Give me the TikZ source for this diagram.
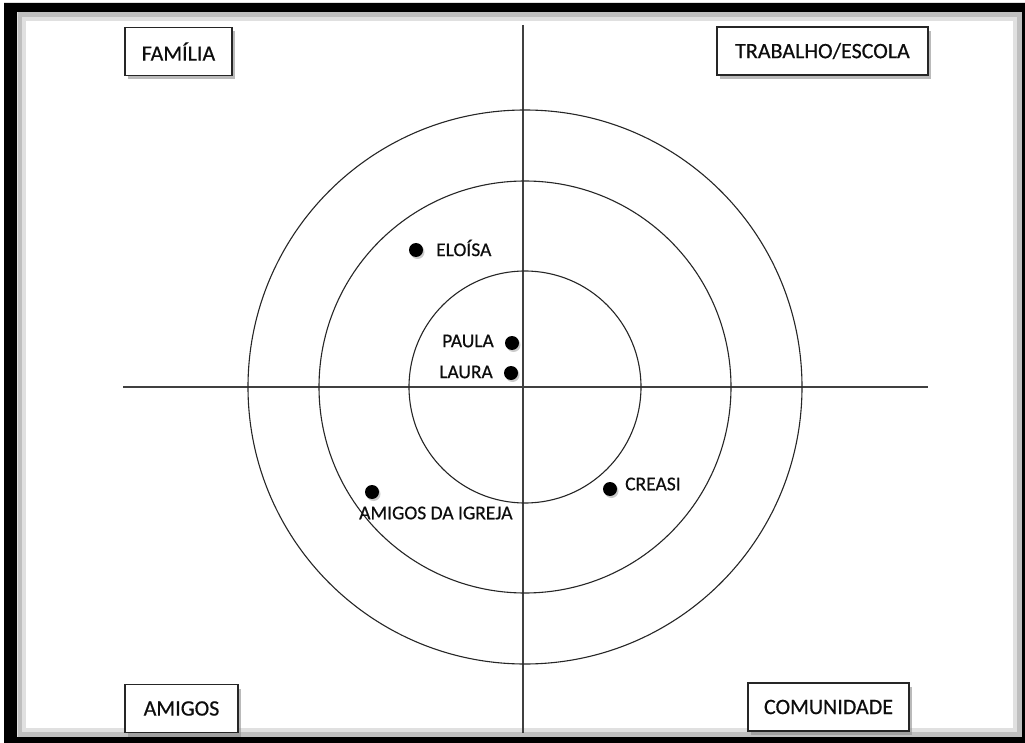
\documentclass[tikz,border=0pt]{standalone}
\usepackage{fontspec}
\setmainfont[FakeBold=0.5]{Carlito}
\usetikzlibrary{shadows}
\begin{document}
\begin{tikzpicture}[x=1pt,y=-1pt,
  sector/.style={draw=black!85,line width=1.3pt,fill=white,minimum height=48pt,inner xsep=0pt,
     font=\fontsize{22}{24}\selectfont,text=black!95,
     drop shadow={shadow xshift=3pt,shadow yshift=-4pt,fill=black!45,opacity=0.6}},
  ring/.style={draw=black!85,line width=1.1pt},
  axis/.style={draw=black!75,line width=1.4pt},
  person/.style={circle,fill=black,inner sep=0pt,minimum size=14pt,
     drop shadow={shadow xshift=1.5pt,shadow yshift=-2pt,fill=black!40,opacity=0.5}},
  who/.style={font=\fontsize{19.5}{21}\selectfont,text=black!95,inner sep=0pt}]
\useasboundingbox (0,0) rectangle (1025,743);
\fill[white] (0,0) rectangle (1025,743);
% inner frame shadow
\draw[black!25,line width=5pt] (20,15) rectangle (1019,734);
\draw[black!12,line width=4pt] (24,19) rectangle (1015,730);
% frame
\fill[black,even odd rule] (4,3) rectangle (1025,743) (17,12) rectangle (1022,737);
% centre and axes
\coordinate (c) at (525,387);
\coordinate (vt) at (523,25);
\coordinate (vb) at (523,733);
\coordinate (hl) at (123,387);
\coordinate (hr) at (928,387);
\draw[axis] (vt) -- (vb);
\draw[axis] (hl) -- (hr);
% rings
\draw[ring] (c) circle[radius=277];
\draw[ring] (c) circle[radius=206];
\draw[ring] (c) circle[radius=116];
% sector boxes
\node[sector,minimum width=107pt] (fam) at (178.5,51.5) {FAMÍLIA};
\node[sector,minimum width=211pt] (trab) at (822.5,51) {TRABALHO/ESCOLA};
\node[sector,minimum width=113pt] (ami) at (181.5,708.5) {AMIGOS};
\node[sector,minimum width=161pt] (com) at (828.5,707) {COMUNIDADE};
% people
\node[person] (eloisa) at (416,250) {};
\node[who,anchor=west] (eloisaL) at (436,248) {ELOÍSA};
\node[person] (paula) at (512,343) {};
\node[who,anchor=east] (paulaL) at (494,341) {PAULA};
\node[person] (laura) at (511,373) {};
\node[who,anchor=east] (lauraL) at (493,372) {LAURA};
\node[person] (igreja) at (372,492) {};
\node[who,anchor=west] (igrejaL) at (359,513) {AMIGOS DA IGREJA};
\node[person] (creasi) at (610,489) {};
\node[who,anchor=west] (creasiL) at (625,484) {CREASI};
\end{tikzpicture}
\end{document}
